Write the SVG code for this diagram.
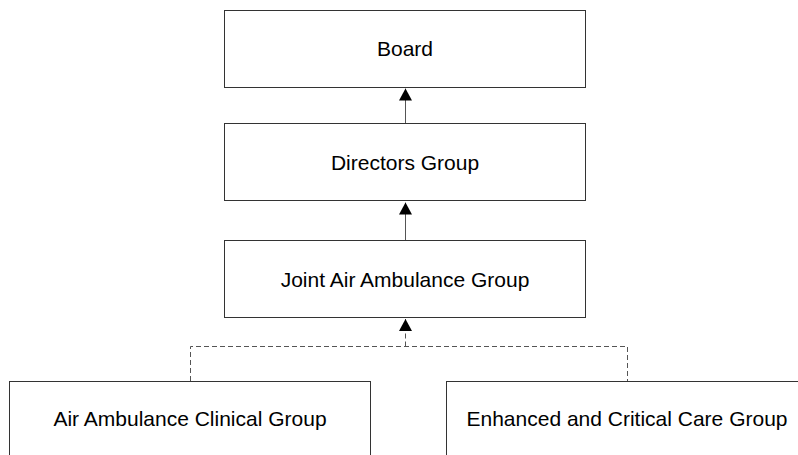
<svg xmlns="http://www.w3.org/2000/svg" width="798" height="455" viewBox="0 0 798 455">
  <style>
    .box { fill: #ffffff; stroke: #333333; stroke-width: 1; }
    .label { font-family: "Liberation Sans", Arial, sans-serif; font-size: 21px; fill: #000000; text-anchor: middle; }
    .link { fill: none; stroke: #555555; stroke-width: 1; }
    .dashed { stroke-dasharray: 5 3; }
  </style>
  <defs>
    <marker id="arrow" markerUnits="userSpaceOnUse" markerWidth="12" markerHeight="13" refX="12" refY="6.5" orient="auto">
      <path d="M0,0 L12,6.5 L0,13 Z" fill="#000000"/>
    </marker>
  </defs>
  <rect width="798" height="455" fill="#ffffff"/>

  <g id="connectors">
    <path class="link" d="M405.5,123.5 L405.5,88.5" marker-end="url(#arrow)"/>
    <path class="link" d="M405.5,240.5 L405.5,202.5" marker-end="url(#arrow)"/>
    <path class="link dashed" d="M190.5,381 L190.5,346.5 L627.5,346.5 L627.5,381"/>
    <path class="link dashed" d="M405.5,346.5 L405.5,319" marker-end="url(#arrow)"/>
  </g>

  <g id="board">
    <rect class="box" x="224.5" y="10.5" width="361" height="77"/>
    <text class="label" x="405" y="56">Board</text>
  </g>
  <g id="directors-group">
    <rect class="box" x="224.5" y="123.5" width="361" height="77"/>
    <text class="label" x="405" y="169.5">Directors Group</text>
  </g>
  <g id="joint-air-ambulance-group">
    <rect class="box" x="224.5" y="240.5" width="361" height="77"/>
    <text class="label" x="405" y="286.5">Joint Air Ambulance Group</text>
  </g>
  <g id="air-ambulance-clinical-group">
    <rect class="box" x="9.5" y="381.5" width="361" height="77"/>
    <text class="label" x="190" y="425.5">Air Ambulance Clinical Group</text>
  </g>
  <g id="enhanced-critical-care-group">
    <rect class="box" x="446.5" y="381.5" width="361" height="77"/>
    <text class="label" x="627" y="425.5">Enhanced and Critical Care Group</text>
  </g>
</svg>
